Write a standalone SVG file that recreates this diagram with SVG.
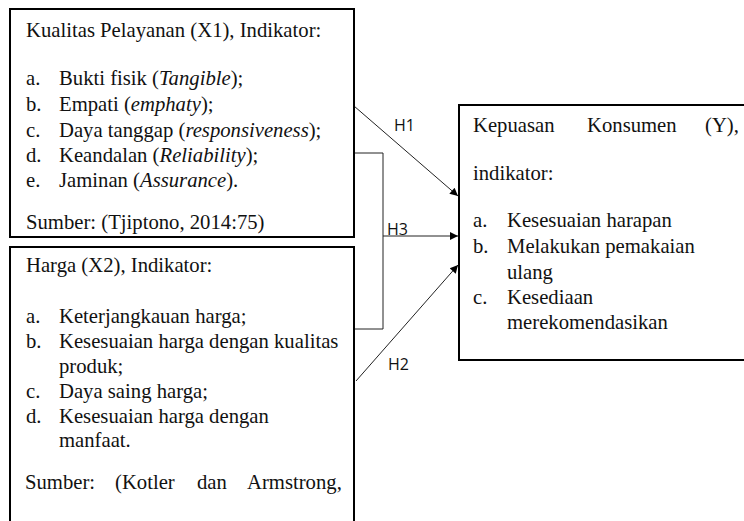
<svg xmlns="http://www.w3.org/2000/svg" width="744" height="521" viewBox="0 0 744 521">
<style>
.box{fill:#fff;stroke:#000;stroke-width:2}
.t{font-family:"Liberation Serif","Times New Roman",serif;font-size:20.7px;fill:#111}
.lbl{font-family:"Open Sans","DejaVu Sans",sans-serif;font-size:16px;fill:#111}
.c{fill:none;stroke:#222;stroke-width:1}
</style>
<defs>
<marker id="ah" viewBox="0 0 10 10" refX="10" refY="5" markerWidth="10" markerHeight="8" markerUnits="userSpaceOnUse" orient="auto">
<path d="M0,0 L10,5 L0,10 z" fill="#000"/>
</marker>
</defs>
<rect width="744" height="521" fill="#fff"/>
<g id="connectors">
<line class="c" x1="354" y1="106" x2="458" y2="196" marker-end="url(#ah)"/>
<polyline class="c" points="354,153 383,153 383,329 354,329" stroke="#555"/>
<line class="c" x1="383" y1="236" x2="458" y2="236" marker-end="url(#ah)"/>
<line class="c" x1="356" y1="381" x2="458" y2="265" marker-end="url(#ah)"/>
<text class="lbl" x="394" y="131">H1</text>
<text class="lbl" x="387" y="235">H3</text>
<text class="lbl" x="388" y="370">H2</text>
</g>
<g id="x1">
<rect class="box" x="10" y="9" width="344" height="228"/>
<text class="t" x="26" y="37">Kualitas Pelayanan (X1), Indikator:</text>
<text class="t" x="26" y="85">a.</text><text class="t" x="59" y="85">Bukti fisik (<tspan font-style="italic">Tangible</tspan>);</text>
<text class="t" x="26" y="111">b.</text><text class="t" x="59" y="111">Empati (<tspan font-style="italic">emphaty</tspan>);</text>
<text class="t" x="26" y="137">c.</text><text class="t" x="59" y="137">Daya tanggap (<tspan font-style="italic">responsiveness</tspan>);</text>
<text class="t" x="26" y="162">d.</text><text class="t" x="59" y="162">Keandalan (<tspan font-style="italic">Reliability</tspan>);</text>
<text class="t" x="26" y="187">e.</text><text class="t" x="59" y="187">Jaminan (<tspan font-style="italic">Assurance</tspan>).</text>
<text class="t" x="26" y="229">Sumber: (Tjiptono, 2014:75)</text>
</g>
<g id="x2">
<rect class="box" x="10" y="247" width="344" height="290"/>
<text class="t" x="26" y="272">Harga (X2), Indikator:</text>
<text class="t" x="26" y="323">a.</text><text class="t" x="59" y="323">Keterjangkauan harga;</text>
<text class="t" x="26" y="348">b.</text><text class="t" x="59" y="348">Kesesuaian harga dengan kualitas</text>
<text class="t" x="59" y="373">produk;</text>
<text class="t" x="26" y="398">c.</text><text class="t" x="59" y="398">Daya saing harga;</text>
<text class="t" x="26" y="423">d.</text><text class="t" x="59" y="423">Kesesuaian harga dengan</text>
<text class="t" x="59" y="447">manfaat.</text>
<text class="t" y="489"><tspan x="25">Sumber:</tspan><tspan x="115">(Kotler</tspan><tspan x="197">dan</tspan><tspan x="247">Armstrong,</tspan></text>
</g>
<g id="y">
<rect class="box" x="459" y="105" width="300" height="255"/>
<text class="t" y="132"><tspan x="473">Kepuasan</tspan><tspan x="587">Konsumen</tspan><tspan x="705">(Y),</tspan></text>
<text class="t" x="473" y="180">indikator:</text>
<text class="t" x="473" y="227">a.</text><text class="t" x="507" y="227">Kesesuaian harapan</text>
<text class="t" x="473" y="253">b.</text><text class="t" x="507" y="253">Melakukan pemakaian</text>
<text class="t" x="507" y="279">ulang</text>
<text class="t" x="473" y="304">c.</text><text class="t" x="507" y="304">Kesediaan</text>
<text class="t" x="507" y="329">merekomendasikan</text>
</g>
</svg>
